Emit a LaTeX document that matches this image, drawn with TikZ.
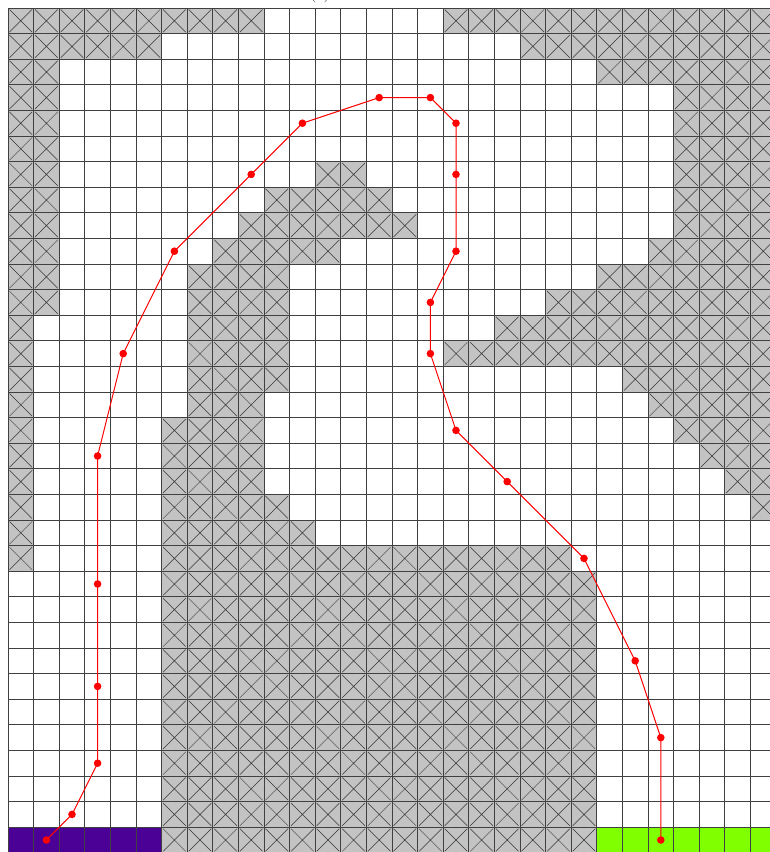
\documentclass[tikz,border=0pt]{standalone}
\definecolor{obst}{RGB}{195,195,195}
\definecolor{startc}{RGB}{75,0,150}
\definecolor{goalc}{RGB}{128,255,0}
\tikzset{
  gridline/.style={draw=black!75,line width=0.8pt},
  xline/.style={draw=black!80,line width=0.5pt},
  route/.style={draw=red,line width=1pt},
  waydot/.style={fill=red},
}
\newcommand\blkrow[3]{%
  \foreach \cc in {#2,...,#3}{%
    \pgfmathsetmacro\xa{8+25.6*\cc}%
    \pgfmathsetmacro\ya{8+25.6*#1}%
    \fill[obst] (\xa,\ya) rectangle ++(25.6,25.6);
    \draw[xline] (\xa+1.5,\ya+1.5) -- ++(22.6,22.6) (\xa+24.1,\ya+1.5) -- ++(-22.6,22.6);
  }}
\begin{document}
\begin{tikzpicture}[x=1pt,y=-1pt]
\useasboundingbox (0,0) rectangle (770,852);
\fill[white] (0,0) rectangle (770,852);
\node[anchor=base,font=\fontsize{17}{20}\selectfont,inner sep=0pt] (title) at (320,-1.5) {(a)};
% obstacles
\blkrow{0}{0}{9}\blkrow{0}{17}{29}
\blkrow{1}{0}{5}\blkrow{1}{20}{29}
\blkrow{2}{0}{1}\blkrow{2}{23}{29}
\blkrow{3}{0}{1}\blkrow{3}{26}{29}
\blkrow{4}{0}{1}\blkrow{4}{26}{29}
\blkrow{5}{0}{1}\blkrow{5}{26}{29}
\blkrow{6}{0}{1}\blkrow{6}{12}{13}\blkrow{6}{26}{29}
\blkrow{7}{0}{1}\blkrow{7}{10}{14}\blkrow{7}{26}{29}
\blkrow{8}{0}{1}\blkrow{8}{9}{15}\blkrow{8}{26}{29}
\blkrow{9}{0}{1}\blkrow{9}{8}{12}\blkrow{9}{25}{29}
\blkrow{10}{0}{1}\blkrow{10}{7}{10}\blkrow{10}{23}{29}
\blkrow{11}{0}{1}\blkrow{11}{7}{10}\blkrow{11}{21}{29}
\blkrow{12}{0}{0}\blkrow{12}{7}{10}\blkrow{12}{19}{29}
\blkrow{13}{0}{0}\blkrow{13}{7}{10}\blkrow{13}{17}{29}
\blkrow{14}{0}{0}\blkrow{14}{7}{10}\blkrow{14}{24}{29}
\blkrow{15}{0}{0}\blkrow{15}{7}{9}\blkrow{15}{25}{29}
\blkrow{16}{0}{0}\blkrow{16}{6}{9}\blkrow{16}{26}{29}
\blkrow{17}{0}{0}\blkrow{17}{6}{9}\blkrow{17}{27}{29}
\blkrow{18}{0}{0}\blkrow{18}{6}{9}\blkrow{18}{28}{29}
\blkrow{19}{0}{0}\blkrow{19}{6}{10}\blkrow{19}{29}{29}
\blkrow{20}{0}{0}\blkrow{20}{6}{11}
\blkrow{21}{0}{0}\blkrow{21}{6}{21}
\foreach \rr in {22,...,32}{\blkrow{\rr}{6}{22}}
% start and goal
\fill[startc] (8,827.2) rectangle (161.6,852.8);
\fill[goalc] (596.8,827.2) rectangle (776,852.8);
% grid
\foreach \i in {0,...,30} \draw[gridline] ({8+25.6*\i},8) -- ({8+25.6*\i},852.8);
\foreach \j in {0,...,33} \draw[gridline] (8,{8+25.6*\j}) -- (776,{8+25.6*\j});
% route
\foreach \c/\r [count=\k] in {1/32,2/31,3/29,3/26,3/22,3/17,4/13,6/9,9/6,11/4,14/3,16/3,17/4,17/6,17/9,16/11,16/13,17/16,19/18,22/21,24/25,25/28,25/32}
  \coordinate (p\k) at ({8+25.6*(\c+0.5)},{8+25.6*(\r+0.5)});
\draw[route] (p1) \foreach \k in {2,...,23}{ -- (p\k)};
\foreach \k in {1,...,23} \fill[waydot] (p\k) circle (3.8);
\end{tikzpicture}
\end{document}
